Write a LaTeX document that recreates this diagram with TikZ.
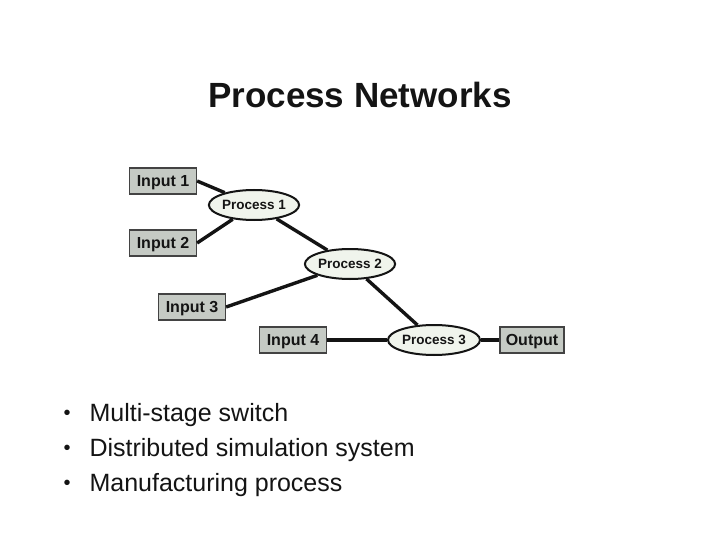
\documentclass[tikz,border=0pt]{standalone}
\usepackage{fontspec}
\setmainfont{Liberation Sans}
\usetikzlibrary{shapes.geometric}
\definecolor{boxfill}{HTML}{C5CAC4}
\definecolor{procfill}{HTML}{F0F4EC}
\definecolor{ink}{HTML}{141414}

\begin{document}
\begin{tikzpicture}[
  x=1pt, y=-1pt, text=ink,
  inbox/.style={draw=ink!80, fill=boxfill, line width=1.3pt, font=\bfseries\fontsize{16}{18}\selectfont,
    minimum width=67pt, minimum height=26pt, inner sep=0pt, text height=11.5pt, text depth=1pt},
  proc/.style={ellipse, draw=ink, fill=procfill, line width=2pt, font=\bfseries\fontsize{13.5}{15}\selectfont,
    minimum width=89pt, minimum height=30pt, inner sep=0pt, text height=9.7pt, text depth=0.5pt},
  link/.style={line width=3.4pt, ink},
  bullet/.style={anchor=west, font=\fontsize{25}{28}\selectfont}
]
  \useasboundingbox[fill=white] (0,0) rectangle (720,540);

  \node[font=\bfseries\fontsize{35}{40}\selectfont] (title) at (360,95) {Process Networks};

  % sources on the left, sink on the right
  \node[inbox] (in1) at (163,181) {Input 1};
  \node[inbox] (in2) at (163,243) {Input 2};
  \node[inbox] (in3) at (192,307) {Input 3};
  \node[inbox] (in4) at (293,340) {Input 4};
  \node[inbox, minimum width=64pt] (out) at (532,340) {Output};

  \node[proc] (p1) at (254,205) {Process 1};
  \node[proc] (p2) at (350,264) {Process 2};
  \node[proc, minimum width=92pt] (p3) at (434,340) {Process 3};

  \draw[link] (in1.east) -- (p1);
  \draw[link] (in2.east) -- (p1);
  \draw[link] (p1) -- (p2);
  \draw[link] (in3.east) -- (p2);
  \draw[link] (p2) -- (p3);
  \draw[link] (in4.east) -- (p3.west);
  \draw[link] (p3.east) -- (out.west);

  \foreach \y/\txt [count=\i] in {415/Multi-stage switch, 450/Distributed simulation system, 485/Manufacturing process} {
    \node[font=\fontsize{20}{24}\selectfont] (dot\i) at (67,\y) {•};
    \node[bullet] (item\i) at (86,\y) {\txt};
  }
\end{tikzpicture}
\end{document}
